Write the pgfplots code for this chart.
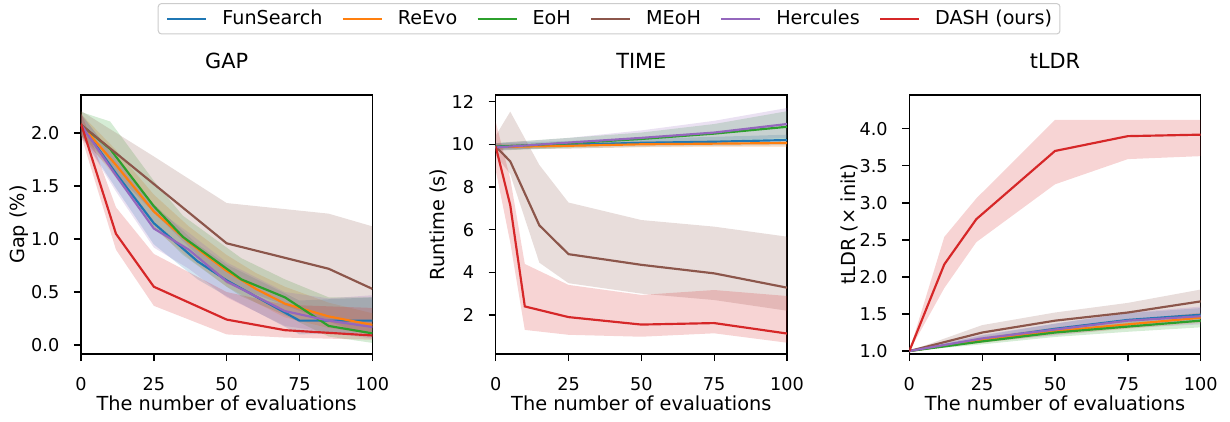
\documentclass[border=0pt]{standalone}
\usepackage{fontspec}
\setmainfont{DejaVu Sans}
\usepackage{pgfplots}
\usepackage{pgfplotstable}
\pgfplotsset{compat=1.18}
\usepgfplotslibrary{fillbetween}

\definecolor{cFun}{HTML}{1F77B4}
\definecolor{cRe}{HTML}{FF7F0E}
\definecolor{cEoh}{HTML}{2CA02C}
\definecolor{cMeoh}{HTML}{8C564B}
\definecolor{cHer}{HTML}{9467BD}
\definecolor{cDash}{HTML}{D62728}

% ---- GAP ----
\pgfplotstableread{
x y lo hi
0 2.08 1.98 2.18
12 1.62 1.48 1.76
25 1.15 0.95 1.33
40 0.79 0.62 0.95
50 0.61 0.46 0.76
75 0.23 0.10 0.42
100 0.23 0.12 0.45
}\gapFun
\pgfplotstableread{
x y lo hi
0 2.08 1.98 2.18
12 1.70 1.58 1.84
25 1.26 1.10 1.42
37 0.97 0.82 1.12
50 0.70 0.55 0.85
60 0.53 0.40 0.68
70 0.39 0.26 0.55
85 0.27 0.16 0.40
100 0.19 0.10 0.30
}\gapRe
\pgfplotstableread{
x y lo hi
0 2.08 1.98 2.20
10 1.85 1.70 2.11
25 1.31 1.12 1.55
35 1.02 0.85 1.22
50 0.72 0.55 0.92
55 0.62 0.46 0.82
70 0.45 0.28 0.62
85 0.18 0.08 0.45
100 0.11 0.02 0.45
}\gapEoh
\pgfplotstableread{
x y lo hi
0 2.08 1.95 2.21
25 1.52 1.25 1.78
50 0.96 0.58 1.34
85 0.72 0.22 1.24
100 0.53 0.08 1.12
}\gapMeoh
\pgfplotstableread{
x y lo hi
0 2.08 1.98 2.18
12 1.60 1.45 1.75
25 1.10 0.92 1.30
37 0.90 0.72 1.06
50 0.60 0.45 0.78
70 0.32 0.18 0.50
85 0.23 0.12 0.44
100 0.17 0.06 0.47
}\gapHer
\pgfplotstableread{
x y lo hi
0 2.09 1.98 2.20
12 1.05 0.90 1.30
25 0.55 0.37 0.86
50 0.24 0.10 0.50
70 0.14 0.07 0.38
100 0.09 0.05 0.35
}\gapDash

% ---- TIME ----
\pgfplotstableread{
x y lo hi
0 9.90 9.75 10.05
25 9.98 9.80 10.16
50 10.07 9.88 10.26
75 10.12 9.92 10.35
100 10.20 9.95 10.45
}\timeFun
\pgfplotstableread{
x y lo hi
0 9.87 9.75 10.00
25 9.93 9.80 10.06
50 10.00 9.86 10.14
75 10.03 9.88 10.18
100 10.06 9.88 10.20
}\timeRe
\pgfplotstableread{
x y lo hi
0 9.88 9.70 10.06
25 10.05 9.85 10.30
50 10.25 10.00 10.55
75 10.50 10.15 10.95
100 10.82 10.25 11.55
}\timeEoh
\pgfplotstableread{
x y lo hi
0 9.90 9.50 10.40
5 9.20 8.60 11.53
15 6.20 4.45 9.03
25 4.85 3.49 7.27
50 4.35 3.00 6.45
75 3.95 2.70 6.14
100 3.28 2.20 5.67
}\timeMeoh
\pgfplotstableread{
x y lo hi
0 9.85 9.70 10.05
25 10.08 9.90 10.30
50 10.30 10.00 10.65
75 10.55 10.15 11.10
100 10.95 10.30 11.70
}\timeHer
\pgfplotstableread{
x y lo hi
0 9.90 8.80 11.06
5 7.15 5.40 8.40
10 2.40 1.30 4.39
25 1.90 1.07 3.41
50 1.55 0.98 2.94
75 1.62 1.14 3.17
100 1.13 0.70 2.89
}\timeDash

% ---- tLDR ----
\pgfplotstableread{
x y lo hi
0 1.00 1.00 1.00
25 1.16 1.12 1.21
50 1.30 1.24 1.37
75 1.42 1.34 1.51
100 1.49 1.40 1.58
}\ldrFun
\pgfplotstableread{
x y lo hi
0 1.00 1.00 1.00
25 1.15 1.11 1.19
50 1.27 1.22 1.32
75 1.36 1.30 1.42
100 1.45 1.38 1.52
}\ldrRe
\pgfplotstableread{
x y lo hi
0 1.00 1.00 1.00
25 1.13 1.09 1.17
50 1.25 1.19 1.31
75 1.33 1.26 1.40
100 1.41 1.32 1.50
}\ldrEoh
\pgfplotstableread{
x y lo hi
0 1.00 1.00 1.00
25 1.25 1.15 1.35
50 1.41 1.31 1.52
75 1.52 1.40 1.65
100 1.67 1.50 1.83
}\ldrMeoh
\pgfplotstableread{
x y lo hi
0 1.00 1.00 1.00
25 1.17 1.12 1.22
50 1.29 1.21 1.37
75 1.41 1.31 1.52
100 1.47 1.36 1.60
}\ldrHer
\pgfplotstableread{
x y lo hi
0 1.00 1.00 1.00
12 2.17 1.85 2.54
23 2.78 2.47 3.06
50 3.70 3.25 4.12
75 3.90 3.59 4.12
100 3.92 3.63 4.12
}\ldrDash

% band + mean line: #1 table, #2 colour, #3 unique name
\newcommand{\curve}[3]{%
  \addplot[draw=none, name path=#3u, forget plot] table[x=x, y=hi]{#1};
  \addplot[draw=none, name path=#3l, forget plot] table[x=x, y=lo]{#1};
  \addplot[fill=#2, fill opacity=0.2, draw=none, forget plot] fill between[of=#3u and #3l];
  \addplot[color=#2, line width=1.3pt] table[x=x, y=y]{#1};
}

\pgfplotsset{
  panel/.style={
    scale only axis, width=174.8pt, height=155.4pt, anchor=north west,
    xmin=0, xmax=100, xtick={0,25,50,75,100},
    axis line style={line width=0.8pt},
    tick style={black, line width=0.8pt},
    major tick length=4.2pt, tick align=outside, tick pos=left,
    /pgf/number format/assume math mode=true,
    ticklabel style={font=\fontsize{10.6}{12}\selectfont},
    xticklabel style={anchor=base, inner sep=0pt, yshift=-17.4pt},
    yticklabel style={anchor=east, inner sep=0pt, xshift=-8.6pt},
    xlabel={The number of evaluations},
    every axis x label/.style={at={(axis description cs:0.5,0)}, anchor=base, yshift=-33.6pt,
      font=\fontsize{11.6}{14}\selectfont},
    title style={font=\fontsize{12.5}{14}\selectfont, at={(axis description cs:0.5,1)}, anchor=base, yshift=10.2pt},
  },
  ylab/.style={every axis y label/.style={at={(axis description cs:#1,0.5)}, rotate=90, anchor=center,
      font=\fontsize{11.6}{14}\selectfont}},
}

\begin{document}
\begin{tikzpicture}

\begin{axis}[panel, at={(0pt,0pt)}, title={GAP}, ylabel={Gap (\%)}, ylab=-0.213,
  ymin=-0.085, ymax=2.36, ytick={0,0.5,1,1.5,2},
  yticklabel style={/pgf/number format/.cd, fixed, fixed zerofill, precision=1},
  legend columns=6,
  legend image code/.code={\draw[#1, line width=1.3pt] (0pt,0pt) -- (23.4pt,0pt); \path (32.4pt,0pt);},
  legend style={at={(axis description cs:1.8127,1.355)}, anchor=north,
    draw=black!20, rounded corners=2pt, line width=0.6pt,
    font=\fontsize{11.5}{13}\selectfont, inner xsep=4.8pt, inner ysep=2pt,
    nodes={inner xsep=0pt, inner ysep=2pt},
    /tikz/every even column/.append style={column sep=11.5pt}},
]
\curve{\gapFun}{cFun}{a}
\addlegendentry{FunSearch}
\curve{\gapRe}{cRe}{b}
\addlegendentry{ReEvo}
\curve{\gapEoh}{cEoh}{c}
\addlegendentry{EoH}
\curve{\gapMeoh}{cMeoh}{d}
\addlegendentry{MEoH}
\curve{\gapHer}{cHer}{e}
\addlegendentry{Hercules}
\curve{\gapDash}{cDash}{f}
\addlegendentry{DASH (ours)}
\end{axis}

\begin{axis}[panel, at={(248.8pt,0pt)}, title={TIME}, ylabel={Runtime (s)}, ylab=-0.196,
  ymin=0.17, ymax=12.31, ytick={2,4,6,8,10,12}]
\curve{\timeFun}{cFun}{a}
\curve{\timeRe}{cRe}{b}
\curve{\timeEoh}{cEoh}{c}
\curve{\timeMeoh}{cMeoh}{d}
\curve{\timeHer}{cHer}{e}
\curve{\timeDash}{cDash}{f}
\end{axis}

\begin{axis}[panel, at={(497.0pt,0pt)}, title={tLDR}, ylabel={tLDR (× init)}, ylab=-0.204,
  ymin=0.96, ymax=4.455, ytick={1,1.5,2,2.5,3,3.5,4},
  yticklabel style={/pgf/number format/.cd, fixed, fixed zerofill, precision=1}]
\curve{\ldrFun}{cFun}{a}
\curve{\ldrRe}{cRe}{b}
\curve{\ldrEoh}{cEoh}{c}
\curve{\ldrMeoh}{cMeoh}{d}
\curve{\ldrHer}{cHer}{e}
\curve{\ldrDash}{cDash}{f}
\end{axis}

\pgfresetboundingbox
\useasboundingbox (-48.6pt,-195.6pt) rectangle (689.4pt,57pt);
\end{tikzpicture}
\end{document}
